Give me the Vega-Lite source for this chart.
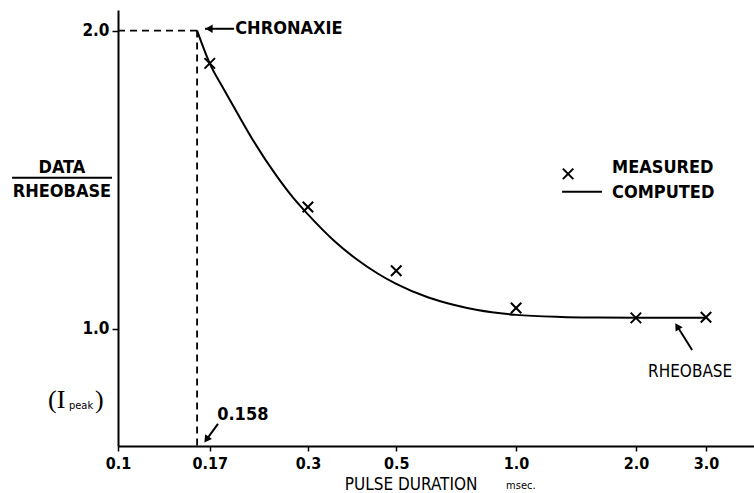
{
  "$schema": "https://vega.github.io/schema/vega-lite/v6.json",
  "width": 636,
  "height": 436,
  "autosize": {"type": "none"},
  "padding": {"left": 118, "top": 10, "right": 0, "bottom": 47},
  "background": "white",
  "config": {
    "view": {"stroke": null},
    "font": "Liberation Sans Narrow, DejaVu Sans Condensed, Liberation Sans, sans-serif",
    "axis": {"grid": false, "domainColor": "black", "tickColor": "black", "labelColor": "black"},
    "text": {"font": "Liberation Sans Narrow, DejaVu Sans Condensed, Liberation Sans, sans-serif", "color": "black"}
  },
  "layer": [
    {
      "data": {"values": [
        {"t": 0.158, "v": 2.0}, {"t": 0.17, "v": 1.89}, {"t": 0.185, "v": 1.80}, {"t": 0.2, "v": 1.72},
        {"t": 0.22, "v": 1.625}, {"t": 0.25, "v": 1.513}, {"t": 0.275, "v": 1.44}, {"t": 0.3, "v": 1.383},
        {"t": 0.35, "v": 1.293}, {"t": 0.4, "v": 1.23}, {"t": 0.45, "v": 1.184}, {"t": 0.5, "v": 1.15},
        {"t": 0.6, "v": 1.105}, {"t": 0.7, "v": 1.079}, {"t": 0.8, "v": 1.062}, {"t": 1.0, "v": 1.046},
        {"t": 1.3, "v": 1.039}, {"t": 1.6, "v": 1.037}, {"t": 2.0, "v": 1.036}, {"t": 3.0, "v": 1.036}
      ]},
      "mark": {"type": "line", "color": "black", "strokeWidth": 2, "interpolate": "monotone"},
      "encoding": {
        "x": {"field": "t", "type": "quantitative", "scale": {"type": "log", "domain": [0.1, 3.96]},
          "axis": {"values": [0.1, 0.17, 0.3, 0.5, 1, 2, 3], "title": null,
            "labelExpr": "datum.value >= 1 ? format(datum.value, '.1f') : format(datum.value, '~g')",
            "labelFontSize": 16, "labelFontWeight": "bold", "labelFlush": false, "labelOverlap": false,
            "tickSize": 5, "tickWidth": 1.5, "domainWidth": 2, "labelPadding": 4}},
        "y": {"field": "v", "type": "quantitative", "scale": {"domain": [0.606, 2.069], "zero": false, "nice": false},
          "axis": {"values": [1, 2], "format": ".1f", "title": null, "labelFontSize": 17, "labelFontWeight": "bold",
            "tickSize": 6, "tickWidth": 1.5, "domainWidth": 2, "labelPadding": 3}}
      }
    },
    {
      "data": {"values": [
        {"t1": 0.1, "t2": 0.158, "v1": 2.0, "v2": 2.0},
        {"t1": 0.158, "t2": 0.158, "v1": 2.0, "v2": 0.606}
      ]},
      "mark": {"type": "rule", "color": "black", "strokeWidth": 1.8, "strokeDash": [7, 5]},
      "encoding": {
        "x": {"field": "t1", "type": "quantitative", "scale": {"type": "log", "domain": [0.1, 3.96]}},
        "x2": {"field": "t2"},
        "y": {"field": "v1", "type": "quantitative", "scale": {"domain": [0.606, 2.069], "zero": false, "nice": false}},
        "y2": {"field": "v2"}
      }
    },
    {
      "data": {"values": [
        {"t": 0.17, "v": 1.89}, {"t": 0.3, "v": 1.408}, {"t": 0.5, "v": 1.194},
        {"t": 1.0, "v": 1.069}, {"t": 2.0, "v": 1.036}, {"t": 3.0, "v": 1.038},
        {"t": 1.351, "v": 1.519}
      ]},
      "mark": {"type": "point", "shape": "M-1,-1L1,1M-1,1L1,-1", "filled": false, "color": "black", "strokeWidth": 2, "size": 110, "opacity": 1},
      "encoding": {
        "x": {"field": "t", "type": "quantitative", "scale": {"type": "log", "domain": [0.1, 3.96]}},
        "y": {"field": "v", "type": "quantitative", "scale": {"domain": [0.606, 2.069], "zero": false, "nice": false}}
      }
    },
    {
      "data": {"values": [
        {"t1": 0.1654, "t2": 0.1957, "v1": 2.006, "v2": 2.006},
        {"t1": 0.1783, "t2": 0.1668, "v1": 0.68, "v2": 0.6275},
        {"t1": 2.768, "t2": 2.54, "v1": 0.928, "v2": 1.0077},
        {"t1": 1.305, "t2": 1.644, "v1": 1.459, "v2": 1.459},
        {"t1": 0.0542, "t2": 0.0966, "v1": 1.506, "v2": 1.506}
      ]},
      "mark": {"type": "rule", "color": "black", "strokeWidth": 2},
      "encoding": {
        "x": {"field": "t1", "type": "quantitative", "scale": {"type": "log", "domain": [0.1, 3.96]}},
        "x2": {"field": "t2"},
        "y": {"field": "v1", "type": "quantitative", "scale": {"domain": [0.606, 2.069], "zero": false, "nice": false}},
        "y2": {"field": "v2"}
      }
    },
    {
      "data": {"values": [
        {"t": 0.1693, "v": 2.006, "a": 270},
        {"t": 0.1668, "v": 0.6275, "a": 216},
        {"t": 2.54, "v": 1.0077, "a": 328}
      ]},
      "mark": {"type": "point", "shape": "triangle-up", "filled": true, "color": "black", "size": 70, "opacity": 1},
      "encoding": {
        "x": {"field": "t", "type": "quantitative", "scale": {"type": "log", "domain": [0.1, 3.96]}},
        "y": {"field": "v", "type": "quantitative", "scale": {"domain": [0.606, 2.069], "zero": false, "nice": false}},
        "angle": {"field": "a", "type": "quantitative", "scale": null}
      }
    },
    {
      "data": {"values": [
        {"t": 0.197, "v": 2.006, "label": "CHRONAXIE"},
        {"t": 1.742, "v": 1.539, "label": "MEASURED"},
        {"t": 1.742, "v": 1.455, "label": "COMPUTED"},
        {"t": 0.1775, "v": 0.711, "label": "0.158"}
      ]},
      "mark": {"type": "text", "align": "left", "baseline": "middle", "fontWeight": "bold", "fontSize": 18},
      "encoding": {
        "x": {"field": "t", "type": "quantitative", "scale": {"type": "log", "domain": [0.1, 3.96]}},
        "y": {"field": "v", "type": "quantitative", "scale": {"domain": [0.606, 2.069], "zero": false, "nice": false}},
        "text": {"field": "label"}
      }
    },
    {
      "data": {"values": [
        {"t": 0.0723, "v": 1.539, "label": "DATA"},
        {"t": 0.0723, "v": 1.459, "label": "RHEOBASE"}
      ]},
      "mark": {"type": "text", "align": "center", "baseline": "middle", "fontWeight": "bold", "fontSize": 18},
      "encoding": {
        "x": {"field": "t", "type": "quantitative", "scale": {"type": "log", "domain": [0.1, 3.96]}},
        "y": {"field": "v", "type": "quantitative", "scale": {"domain": [0.606, 2.069], "zero": false, "nice": false}},
        "text": {"field": "label"}
      }
    },
    {
      "data": {"values": [
        {"t": 2.737, "v": 0.855, "label": "RHEOBASE"},
        {"t": 0.545, "v": 0.4755, "label": "PULSE DURATION"}
      ]},
      "mark": {"type": "text", "align": "center", "baseline": "middle", "fontSize": 17},
      "encoding": {
        "x": {"field": "t", "type": "quantitative", "scale": {"type": "log", "domain": [0.1, 3.96]}},
        "y": {"field": "v", "type": "quantitative", "scale": {"domain": [0.606, 2.069], "zero": false, "nice": false}},
        "text": {"field": "label"}
      }
    },
    {
      "data": {"values": [
        {"t": 0.944, "v": 0.473, "label": "msec."},
        {"t": 0.0753, "v": 0.741, "label": "peak"}
      ]},
      "mark": {"type": "text", "align": "left", "baseline": "middle", "fontSize": 11},
      "encoding": {
        "x": {"field": "t", "type": "quantitative", "scale": {"type": "log", "domain": [0.1, 3.96]}},
        "y": {"field": "v", "type": "quantitative", "scale": {"domain": [0.606, 2.069], "zero": false, "nice": false}},
        "text": {"field": "label"}
      }
    },
    {
      "data": {"values": [
        {"t": 0.0667, "v": 0.761, "label": "(I"},
        {"t": 0.0876, "v": 0.761, "label": ")"}
      ]},
      "mark": {"type": "text", "align": "left", "baseline": "middle", "fontSize": 26, "font": "Liberation Serif, DejaVu Serif, serif"},
      "encoding": {
        "x": {"field": "t", "type": "quantitative", "scale": {"type": "log", "domain": [0.1, 3.96]}},
        "y": {"field": "v", "type": "quantitative", "scale": {"domain": [0.606, 2.069], "zero": false, "nice": false}},
        "text": {"field": "label"}
      }
    }
  ]
}
